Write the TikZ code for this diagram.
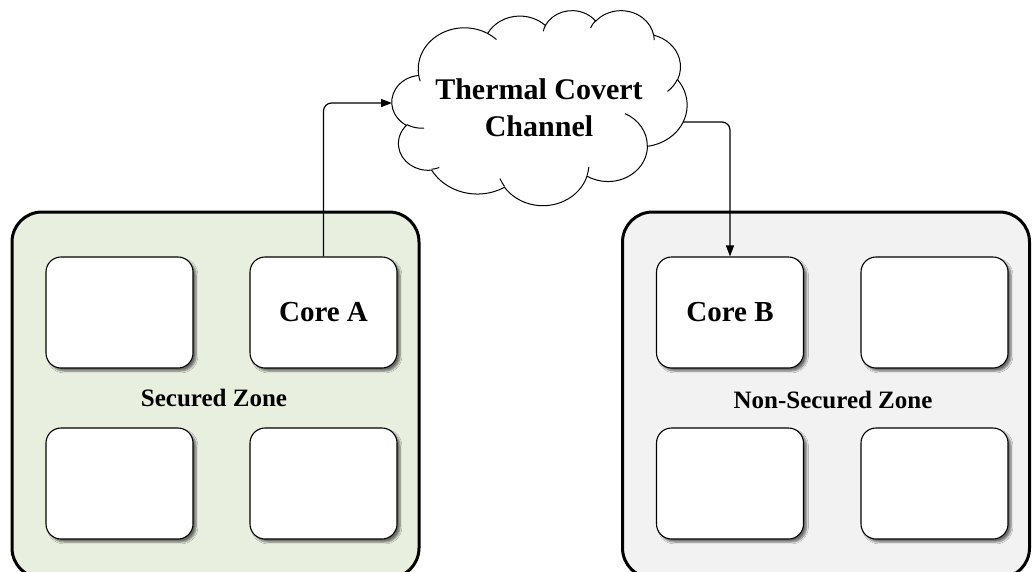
\documentclass[tikz,border=0pt]{standalone}
\usepackage{fontspec}
\setmainfont{Liberation Serif}
\usetikzlibrary{arrows.meta,shadows.blur}
\definecolor{securefill}{HTML}{E9EFDF}
\definecolor{openfill}{HTML}{F2F2F2}
\tikzset{
  zone/.style={draw=black, line width=3pt, rounded corners=30pt,
    minimum width=407pt, minimum height=366pt, inner sep=0pt},
  core/.style={draw=black, line width=1.1pt, fill=white, rounded corners=15pt,
    minimum width=147pt, minimum height=111pt, inner sep=0pt,
    font=\fontsize{29}{34}\selectfont\bfseries,
    blur shadow={shadow xshift=3pt, shadow yshift=-3pt, shadow blur steps=6, shadow opacity=55}},
  zonelabel/.style={font=\fontsize{25}{30}\selectfont\bfseries, inner sep=0pt},
  link/.style={line width=1.2pt, rounded corners=8pt,
    -{Triangle[length=11pt,width=8pt]}},
  cloudline/.style={draw=black, line width=1pt},
  cloudtext/.style={align=center, inner sep=0pt,
    font=\fontsize{30}{37}\selectfont\bfseries}
}
% puff arc: start angle, end angle (measured clockwise), x radius, y radius in pt
\newcommand\puffarc[4]{arc[start angle=-#1, end angle=-#2, x radius=#3pt, y radius=#4pt]}
\begin{document}
\begin{tikzpicture}[x=1pt, y=-1pt]
  \useasboundingbox (0,0) rectangle (1032,571);
  \clip (0,0) rectangle (1032,571);

  % secured and non-secured zones
  \node[zone, fill=securefill] (szone) at (215.5,395) {};
  \node[zone, fill=openfill] (nzone) at (826,395) {};

  % cores of the secured zone
  \node[core] (s1) at (119.5,312.5) {};
  \node[core] (coreA) at (323.5,312.5) {Core A};
  \node[core] (s3) at (119.5,483.5) {};
  \node[core] (s4) at (323.5,483.5) {};
  \node[zonelabel] (slabel) at (214,398) {Secured Zone};

  % cores of the non-secured zone
  \node[core] (coreB) at (730,312.5) {Core B};
  \node[core] (n2) at (934.5,312.5) {};
  \node[core] (n3) at (730,483.5) {};
  \node[core] (n4) at (934.5,483.5) {};
  \node[zonelabel] (nlabel) at (833,400) {Non-Secured Zone};

  % the covert channel: a cloud of eleven puffs laid out in a 432 x 432 grid
  \begin{scope}[shift={(392pt,-10pt)}, x=0.68287pt, y=-0.45139pt]
    \path[cloudline, fill=white] (39,143.7)
      \puffarc{-187.745}{-59.63}{46.114}{41.483}
      \puffarc{-152.03}{-45.46}{36.418}{32.803}
      \puffarc{-153.50}{-37.33}{29.807}{26.835}
      \puffarc{-139.71}{-10.21}{33.167}{29.769}
      \puffarc{-74.77}{23.21}{36.418}{32.830}
      \puffarc{-37.52}{81.86}{46.264}{41.618}
      \puffarc{0.46}{121.98}{39.504}{35.511}
      \puffarc{16.84}{146.23}{46.107}{41.596}
      \puffarc{58.98}{150.18}{52.718}{47.590}
      \puffarc{-276.69}{-136.93}{29.773}{26.713}
      \puffarc{-239.64}{-95.89}{29.671}{26.835}
      -- cycle;
    % the short inner strokes where the puffs overlap
    \path[cloudline]
      (46.93,261.77)  \puffarc{85.55}{120.36}{29.671}{26.835}
      (69.28,348.99)  \puffarc{68.24}{83.31}{29.773}{26.713}
      (164.78,390.90) \puffarc{146.23}{158.47}{46.107}{41.596}
      (288.27,347.51) \puffarc{4.74}{16.84}{46.107}{41.596}
      (341.29,229.54) \puffarc{-64.03}{0.46}{39.504}{35.511}
      (417.98,153.54) \puffarc{23.21}{49.63}{36.418}{32.830}
      (383.24,54.26)  \puffarc{-10.21}{0.82}{33.167}{29.769}
      (290.78,39.52)  \puffarc{-156.28}{-139.71}{33.167}{29.769}
      (221.41,47.20)  \puffarc{-167.73}{-153.50}{29.807}{26.835}
      (140.00,51.92)  \puffarc{-59.63}{-45.74}{46.114}{41.483}
      (41.27,157.89)  \puffarc{163.20}{172.25}{46.114}{41.483};
  \end{scope}
  \node[cloudtext] (channel) at (539,108) {Thermal Covert\\Channel};
  \coordinate (chin) at (392,103);
  \coordinate (chout) at (683,122);

  \draw[link] (coreA.north) |- (chin);
  \draw[link] (chout) -| (coreB.north);
\end{tikzpicture}
\end{document}
